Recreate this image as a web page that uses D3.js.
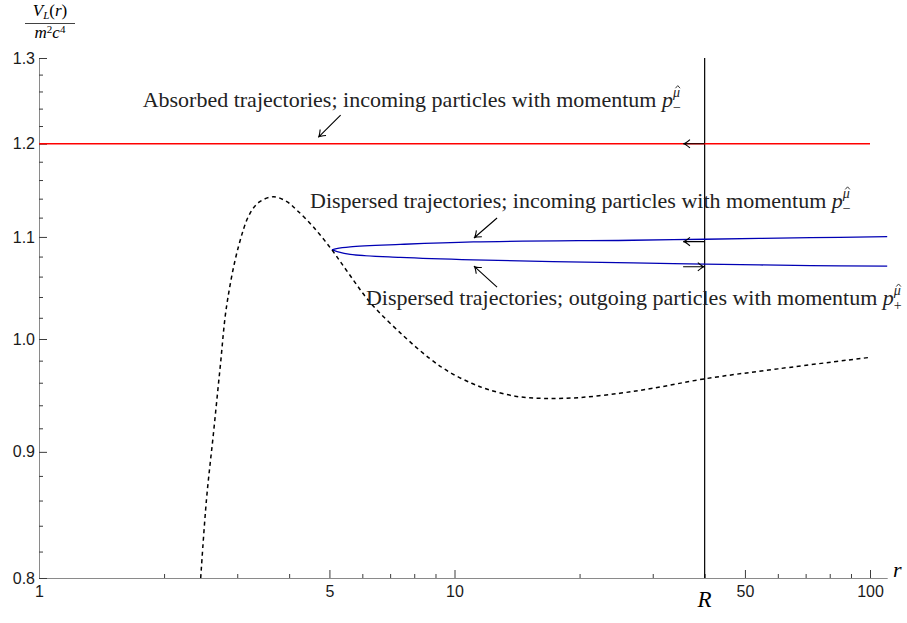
<!DOCTYPE html>
<html lang="en">
  <head>
    <meta charset="utf-8" />
    <script type="text/javascript" src="https://d3js.org/d3.v7.min.js"></script>
    <style>
      body { margin: 0; background: #fff; }
    </style>
  </head>

  <body>
    <script type="text/javascript">
      let w = 907;
      let h = 623;

      // effective potential (dashed)
      let potR = [2.45, 2.53, 2.63, 2.73, 2.83, 3.02, 3.22, 3.4, 3.67, 3.95, 4.17, 4.57, 5.07, 5.56, 6.27, 7.54, 8.73, 9.77, 11, 12, 14, 16.5, 20, 25, 30, 40, 60, 100];
      let potV = [0.8, 0.861, 0.916, 0.9745, 1.032, 1.09, 1.1245, 1.1368, 1.142, 1.1368, 1.128, 1.1105, 1.0867, 1.0632, 1.0346, 1.0029, 0.9818, 0.9691, 0.9595, 0.9542, 0.948, 0.946, 0.9468, 0.9506, 0.955, 0.9635, 0.9725, 0.983];

      // dispersed trajectories (blue)
      let dispR = [5.07, 5.2, 5.61, 7.4, 11.1, 26.9, 40, 72, 110];
      let inV = [1.0867, 1.088, 1.0898, 1.0923, 1.0949, 1.0966, 1.0976, 1.0992, 1.1003];
      let outV = [1.0867, 1.0852, 1.0822, 1.0791, 1.0766, 1.0736, 1.0725, 1.0709, 1.0705];

      // absorbed trajectory (red)
      let absR = [1, 100];
      let absV = [1.2, 1.2];

      let R = 40;

      let xMajor = [1, 5, 10, 50, 100];
      let xMinor = [2, 3, 4, 6, 7, 8, 9, 20, 30, 40, 60, 70, 80, 90];
      let yMajor = [0.8, 0.9, 1.0, 1.1, 1.2, 1.3];
      let yMinor = [0.82, 0.84, 0.86, 0.88, 0.92, 0.94, 0.96, 0.98, 1.02, 1.04, 1.06, 1.08, 1.12, 1.14, 1.16, 1.18, 1.22, 1.24, 1.26, 1.28];

      // annotations: [r, v] of text start, and arrows [tail, tip]
      let notes = [
        { at: [1.776, 1.2422], text: "Absorbed trajectories; incoming particles with momentum", sign: "\u2212" },
        { at: [4.49, 1.1302], text: "Dispersed trajectories; incoming particles with momentum", sign: "\u2212" },
        { at: [6.12, 1.0322], text: "Dispersed trajectories; outgoing particles with momentum", sign: "+" },
      ];
      let pointers = [
        [[5.32, 1.2326], [4.7, 1.2072]],
        [[12.66, 1.1196], [11.14, 1.0989]],
        [[12.66, 1.0497], [11.14, 1.0705]],
      ];
      // small arrows at R: [r from, r to, v]
      let flowArrows = [
        [40, 35.5, 1.2],
        [40, 35.5, 1.0952],
        [35.5, 40, 1.0698],
      ];

      let serif = "'Liberation Serif', 'Times New Roman', serif";
      let sans = "'Liberation Sans', Arial, sans-serif";

      let x = d3.scaleLog().domain([1, 110]).range([39, 39 + 415.5 * Math.log10(110)]);
      let y = d3.scaleLog().domain([0.8, 1.3]).range([578, 58]);

      let svg = d3
        .select("body")
        .append("svg")
        .attr("width", w)
        .attr("height", h);

      // axes
      let xAxis = svg.append("g").attr("transform", "translate(0," + y(0.8) + ")");
      xAxis.call(
        d3.axisBottom(x).tickValues(xMajor).tickSize(-8).tickSizeOuter(0).tickPadding(8).tickFormat(d3.format("d"))
      );
      xAxis
        .append("g")
        .call(d3.axisBottom(x).tickValues(xMinor).tickSize(-4).tickFormat(""))
        .select(".domain")
        .remove();

      let yAxis = svg.append("g").attr("transform", "translate(" + x(1) + ",0)");
      yAxis.call(
        d3.axisLeft(y).tickValues(yMajor).tickSize(-8).tickSizeOuter(0).tickPadding(4).tickFormat(d3.format(".1f"))
      );
      yAxis
        .append("g")
        .call(d3.axisLeft(y).tickValues(yMinor).tickSize(-4).tickFormat(""))
        .select(".domain")
        .remove();

      svg.selectAll(".domain").attr("stroke", "#8a8a8a").attr("stroke-width", 1);
      svg.selectAll(".tick line").attr("stroke", "#3c3c3c").attr("stroke-width", 1);
      svg
        .selectAll(".tick text")
        .attr("font-family", sans)
        .attr("font-size", "16px")
        .attr("fill", "#1a1a1a");

      // axis labels
      svg
        .append("text")
        .attr("x", 893)
        .attr("y", 577)
        .attr("font-family", serif)
        .attr("font-style", "italic")
        .attr("font-size", "22px")
        .text("r");

      let ylab = svg.append("g").attr("font-family", serif).attr("font-style", "italic").attr("font-size", "17px");
      let num = ylab.append("text").attr("x", 50).attr("y", 16).attr("text-anchor", "middle");
      num.append("tspan").text("V");
      num.append("tspan").attr("font-size", "11px").attr("dy", 3).text("L");
      num.append("tspan").attr("dy", -3).attr("font-style", "normal").text("(");
      num.append("tspan").text("r");
      num.append("tspan").attr("font-style", "normal").text(")");
      ylab.append("line").attr("x1", 25).attr("x2", 75).attr("y1", 23.5).attr("y2", 23.5).attr("stroke", "#111").attr("stroke-width", 0.8);
      let den = ylab.append("text").attr("x", 50).attr("y", 38).attr("text-anchor", "middle");
      den.append("tspan").text("m");
      den.append("tspan").attr("font-size", "11px").attr("font-style", "normal").attr("dy", -5).text("2");
      den.append("tspan").attr("dy", 5).text("c");
      den.append("tspan").attr("font-size", "11px").attr("font-style", "normal").attr("dy", -5).text("4");

      // R line
      svg
        .append("line")
        .attr("x1", x(R))
        .attr("x2", x(R))
        .attr("y1", y(0.8))
        .attr("y2", y(1.3))
        .attr("stroke", "#000")
        .attr("stroke-width", 1.2);
      svg
        .append("text")
        .attr("x", x(R))
        .attr("y", 607)
        .attr("text-anchor", "middle")
        .attr("font-family", serif)
        .attr("font-style", "italic")
        .attr("font-size", "23px")
        .text("R");

      let smooth = d3
        .line()
        .x((d) => x(d[0]))
        .y((d) => y(d[1]))
        .curve(d3.curveCatmullRom.alpha(0.5));

      // red line
      svg
        .append("path")
        .datum(d3.zip(absR, absV))
        .attr("d", smooth)
        .attr("fill", "none")
        .attr("stroke", "#ff0000")
        .attr("stroke-width", 1.3);

      // blue curves
      [inV, outV].forEach((vals) => {
        svg
          .append("path")
          .datum(d3.zip(dispR, vals))
          .attr("d", smooth)
          .attr("fill", "none")
          .attr("stroke", "#0000b4")
          .attr("stroke-width", 1.3);
      });

      // dashed potential
      svg
        .append("path")
        .datum(d3.zip(potR, potV))
        .attr("d", smooth)
        .attr("fill", "none")
        .attr("stroke", "#000")
        .attr("stroke-width", 1.5)
        .attr("stroke-dasharray", "4,3.5");

      // open arrow head helper
      let arrow = function (x0, y0, x1, y1) {
        let a = Math.atan2(y1 - y0, x1 - x0);
        let L = 8;
        let s = 0.55;
        let p1 = [x1 - L * Math.cos(a - s), y1 - L * Math.sin(a - s)];
        let p2 = [x1 - L * Math.cos(a + s), y1 - L * Math.sin(a + s)];
        let c = [x1 - 2 * Math.cos(a), y1 - 2 * Math.sin(a)];
        svg
          .append("path")
          .attr("d", "M" + x0 + "," + y0 + "L" + x1 + "," + y1 + "M" + p1 + "Q" + c + " " + x1 + "," + y1 + "Q" + c + " " + p2)
          .attr("fill", "none")
          .attr("stroke", "#000")
          .attr("stroke-width", 1.1);
      };

      pointers.forEach((p) => {
        arrow(x(p[0][0]), y(p[0][1]), x(p[1][0]), y(p[1][1]));
      });
      flowArrows.forEach((f) => {
        arrow(x(f[0]), y(f[2]), x(f[1]), y(f[2]));
      });

      // annotation texts, momentum symbol p with hat-mu / sign
      notes.forEach((n) => {
        let tx = x(n.at[0]);
        let ty = y(n.at[1]);
        let t = svg
          .append("text")
          .attr("x", tx)
          .attr("y", ty)
          .attr("font-family", serif)
          .attr("font-size", "22px")
          .attr("fill", "#222");
        let body = t.append("tspan").text(n.text);
        let px = tx + body.node().getComputedTextLength() + 5.5;
        t.append("tspan").attr("x", px).attr("y", ty).attr("font-style", "italic").text("p");
        t.append("tspan").attr("x", px + 11).attr("y", ty - 10).attr("font-style", "italic").attr("font-size", "14px").text("\u03bc");
        t.append("tspan").attr("x", px + 11).attr("y", ty + 5).attr("font-size", "14px").text(n.sign);
        // hat over mu
        svg
          .append("path")
          .attr("d", "M" + (px + 13.5) + "," + (ty - 18.5) + "l2.3,-2.6l2.3,2.6")
          .attr("fill", "none")
          .attr("stroke", "#222")
          .attr("stroke-width", 0.9);
      });
    </script>
  </body>
</html>
